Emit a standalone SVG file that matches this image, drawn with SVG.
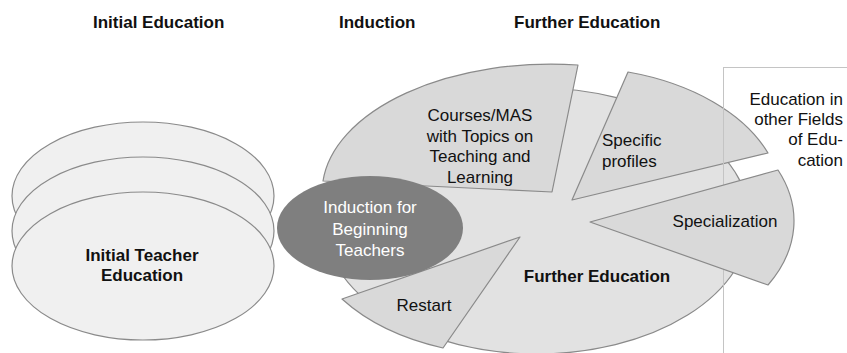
<svg xmlns="http://www.w3.org/2000/svg" width="847" height="353" viewBox="0 0 847 353">
<style>
text{font-family:"Liberation Sans",Arial,sans-serif;font-size:17px;fill:#111}
.b{font-weight:bold}
.c{text-anchor:middle}
.stack{fill:#f0f0f0;stroke:#8a8a8a;stroke-width:1.2}
.main{fill:#e2e2e2;stroke:#8a8a8a;stroke-width:1.2}
.wedge{fill:#d9d9d9;stroke:#8a8a8a;stroke-width:1.2;stroke-linejoin:round}
.ind{fill:#7f7f7f}
.w{fill:#fff}
</style>
<rect width="847" height="353" fill="#fff"/>
<g id="titles">
<text class="b" x="93" y="28">Initial Education</text>
<text class="b" x="339" y="28">Induction</text>
<text class="b" x="514" y="28">Further Education</text>
</g>
<g id="initial-teacher-education">
<ellipse class="stack" cx="143" cy="196" rx="131" ry="74"/>
<ellipse class="stack" cx="143" cy="231" rx="131" ry="74"/>
<ellipse class="stack" cx="143" cy="266" rx="131" ry="74"/>
<text class="b c" x="142" y="261">Initial Teacher</text>
<text class="b c" x="142" y="281">Education</text>
</g>
<g id="further-education">
<ellipse class="main" cx="537" cy="221" rx="213" ry="133"/>
<text class="b c" x="597" y="282">Further Education</text>
</g>
<g id="courses-mas">
<path class="wedge" d="M552,192 L323,181 A229,128 0 0 1 578,65 Z"/>
<text class="c" x="480" y="121">Courses/MAS</text>
<text class="c" x="480" y="142">with Topics on</text>
<text class="c" x="480" y="162">Teaching and</text>
<text class="c" x="480" y="183">Learning</text>
</g>
<g id="specific-profiles">
<path class="wedge" d="M572,200 L628,72 A210,133 0 0 1 768,153 Z"/>
<text x="602" y="146">Specific</text>
<text x="602" y="167">profiles</text>
</g>
<g id="other-fields">
<rect x="723.500" y="67.500" width="140" height="300" fill="none" stroke="#c4c4c4" stroke-width="1"/>
<text x="843" y="105" text-anchor="end">Education in</text>
<text x="843" y="125" text-anchor="end">other Fields</text>
<text x="843" y="145" text-anchor="end">of Edu-</text>
<text x="843" y="166" text-anchor="end">cation</text>
</g>
<g id="specialization">
<path class="wedge" d="M590,222 L778,170 A210,133 0 0 1 768,285 Z"/>
<text class="c" x="725" y="227">Specialization</text>
</g>
<g id="restart">
<path class="wedge" d="M520,237 L342,299 A210,133 0 0 0 443,348 Z"/>
<text class="c" x="424" y="311">Restart</text>
</g>
<g id="induction">
<ellipse class="ind" cx="370" cy="228" rx="93" ry="52"/>
<text class="c w" x="370" y="213">Induction for</text>
<text class="c w" x="370" y="235">Beginning</text>
<text class="c w" x="370" y="256">Teachers</text>
</g>
<g id="connectors"/>
</svg>
